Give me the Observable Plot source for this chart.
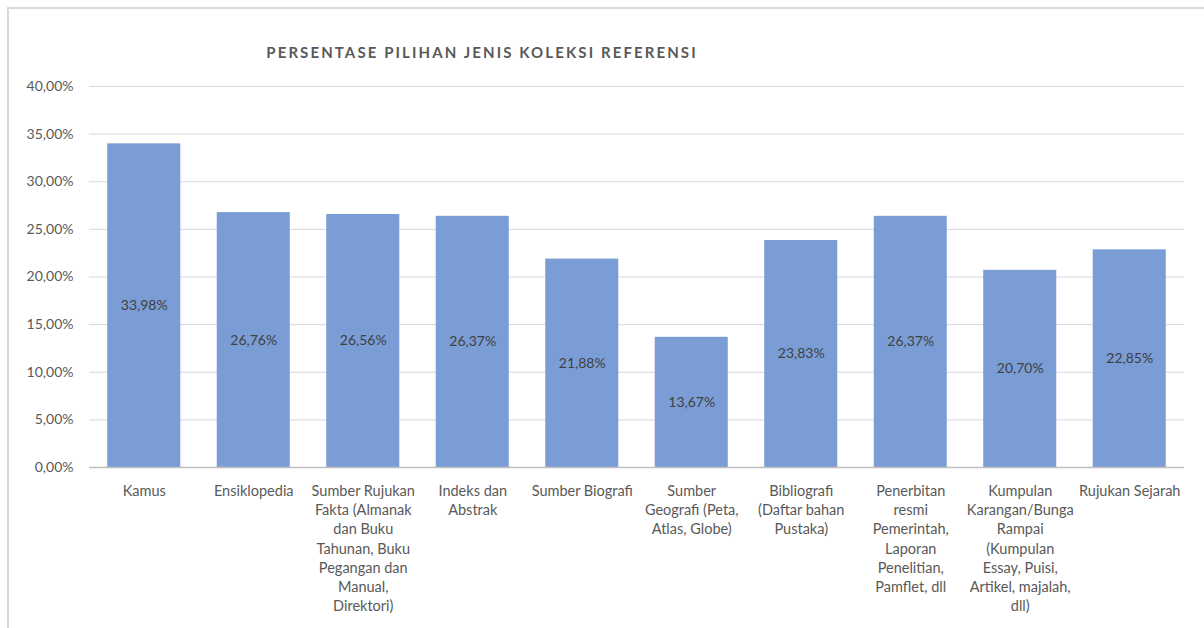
<!DOCTYPE html>
<html>
<head>
<meta charset="utf-8">
<script src="https://cdn.jsdelivr.net/npm/d3@7"></script>
<script src="https://cdn.jsdelivr.net/npm/@observablehq/plot@0.6"></script>
<style>
  html, body { margin: 0; padding: 0; background: #fff; }
  #wrap { position: relative; width: 1204px; height: 628px; overflow: hidden; font-family: Lato, "Open Sans", sans-serif; }
  #frame { position: absolute; left: 7px; top: 7px; width: 1210px; height: 640px; border: 2px solid #d9d9d9; box-sizing: border-box; }
  #title { position: absolute; left: 0; width: 964px; top: 43px; text-align: center; font-size: 15px; font-weight: bold; letter-spacing: 2.1px; color: #595959; }
  #chart { position: absolute; left: 0; top: 0; }
</style>
</head>
<body>
<div id="wrap">
  <div id="frame"></div>
  <div id="chart"></div>
  <div id="title">PERSENTASE PILIHAN JENIS KOLEKSI REFERENSI</div>
</div>
<script>
const categories = [
  "Kamus",
  "Ensiklopedia",
  "Sumber Rujukan Fakta (Almanak dan Buku Tahunan, Buku Pegangan dan Manual, Direktori)",
  "Indeks dan Abstrak",
  "Sumber Biografi",
  "Sumber Geografi (Peta, Atlas, Globe)",
  "Bibliografi (Daftar bahan Pustaka)",
  "Penerbitan resmi Pemerintah, Laporan Penelitian, Pamflet, dll",
  "Kumpulan Karangan/Bunga Rampai (Kumpulan Essay, Puisi, Artikel, majalah, dll)",
  "Rujukan Sejarah"
];
const tickLabels = [
  "Kamus",
  "Ensiklopedia",
  "Sumber Rujukan\nFakta (Almanak\ndan Buku\nTahunan, Buku\nPegangan dan\nManual,\nDirektori)",
  "Indeks dan\nAbstrak",
  "Sumber Biografi",
  "Sumber\nGeografi (Peta,\nAtlas, Globe)",
  "Bibliografi\n(Daftar bahan\nPustaka)",
  "Penerbitan\nresmi\nPemerintah,\nLaporan\nPenelitian,\nPamflet, dll",
  "Kumpulan\nKarangan/Bunga\nRampai\n(Kumpulan\nEssay, Puisi,\nArtikel, majalah,\ndll)",
  "Rujukan Sejarah"
];
const values = [33.98, 26.76, 26.56, 26.37, 21.88, 13.67, 23.83, 26.37, 20.70, 22.85];
const yTicks = [0, 5, 10, 15, 20, 25, 30, 35, 40];

const data = categories.map((c, i) => ({category: c, label: tickLabels[i], value: values[i]}));
const labelOf = new Map(data.map(d => [d.category, d.label]));
const pct = v => v.toFixed(2).replace(".", ",") + "%";

const plot = Plot.plot({
  width: 1204,
  height: 628,
  marginLeft: 89,
  marginRight: 20,
  marginTop: 86,
  marginBottom: 161,
  style: {fontFamily: "Lato, 'Open Sans', sans-serif", background: "transparent"},
  x: {domain: categories, padding: 0.333, paddingOuter: 0.1667, round: false},
  y: {domain: [0, 40]},
  marks: [
    Plot.gridY(yTicks.filter(t => t > 0), {stroke: "#d9d9d9", strokeOpacity: 1, strokeWidth: 1}),
    Plot.barY(data, {x: "category", y: "value", fill: "#7b9dd6"}),
    Plot.ruleY([0], {stroke: "#bfbfbf", strokeWidth: 1.5}),
    Plot.text(data, {x: "category", y: d => d.value / 2, text: d => pct(d.value), fill: "#404040", fontSize: 14}),
    Plot.axisY({ticks: yTicks, tickFormat: pct, tickSize: 0, tickPadding: 16, fontSize: 14, fill: "#595959", label: null}),
    Plot.axisX({tickFormat: c => labelOf.get(c), tickSize: 0, tickPadding: 15, fontSize: 14.5, fill: "#595959", lineHeight: 1.32, label: null, lineAnchor: "top"})
  ]
});
document.getElementById("chart").appendChild(plot);
</script>
</body>
</html>
